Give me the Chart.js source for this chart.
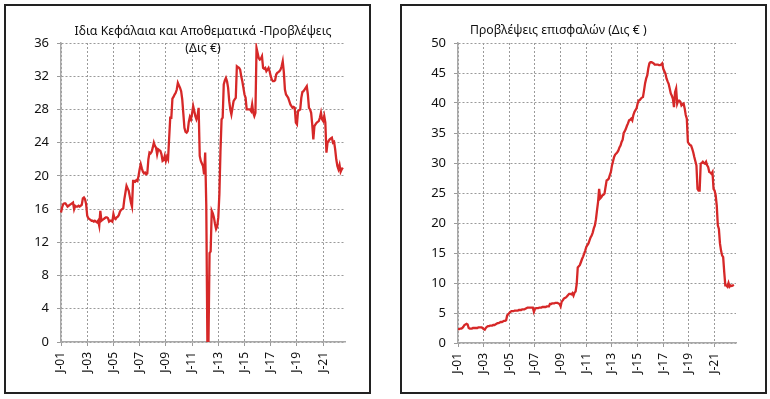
<!DOCTYPE html>
<html>
<head>
<meta charset="utf-8">
<script src="https://cdn.jsdelivr.net/npm/chart.js@4.4.0/dist/chart.umd.min.js"></script>
<style>
  body { margin: 0; background: #fff; width: 770px; height: 399px; position: relative; overflow: hidden; }
  .panel { position: absolute; top: 4px; width: 367px; height: 390px; border: 2px solid #222; box-sizing: border-box; }
  #p1 { left: 4px; }
  #p2 { left: 400px; }
  canvas { display: block; }
</style>
</head>
<body>
<div class="panel" id="p1"><canvas id="equityChart" width="363" height="386"></canvas></div>
<div class="panel" id="p2"><canvas id="provChart" width="363" height="386"></canvas></div>
<script>
// mois de janvier 2001 a septembre 2022 (les donnees s'arretent en juillet 2022)
const startYear = 2001;
const monthCount = 261;

const tickMonths = ["2001-01", "2003-01", "2005-01", "2007-01", "2009-01", "2011-01",
  "2013-01", "2015-01", "2017-01", "2019-01", "2021-01"];
const tickLabels = ["J-01", "J-03", "J-05", "J-07", "J-09", "J-11",
  "J-13", "J-15", "J-17", "J-19", "J-21"];

// Ιδια Κεφάλαια και Αποθεματικά - Προβλέψεις (Δις €), mensuel
const equityValues = [
  15.6, 16.2, 16.6, 16.7, 16.7, 16.5, 16.3, 16.4, 16.5, 16.6, 16.7, 16.8, // 2001
  16.0, 16.4, 16.3, 16.3, 16.4, 16.3, 16.4, 16.5, 17.3, 17.4, 17.2, 16.6, // 2002
  15.2, 14.9, 14.8, 14.7, 14.6, 14.6, 14.5, 14.6, 14.5, 14.4, 14.6, 14.0, // 2003
  15.8, 14.6, 14.7, 14.8, 14.9, 15.0, 15.0, 14.9, 14.5, 14.6, 14.6, 14.5, // 2004
  15.4, 14.9, 14.8, 15.0, 15.1, 15.3, 15.7, 15.9, 16.0, 16.1, 17.2, 18.0, // 2005
  18.8, 18.5, 18.2, 17.5, 16.8, 16.3, 19.4, 19.4, 19.3, 19.5, 19.4, 20.0, // 2006
  20.8, 21.4, 20.9, 20.5, 20.3, 20.4, 20.2, 20.3, 22.0, 22.8, 22.7, 22.9, // 2007
  23.4, 24.0, 23.6, 23.4, 22.6, 23.2, 23.1, 23.0, 22.6, 21.8, 21.9, 22.4, // 2008
  21.8, 22.3, 22.0, 24.5, 27.0, 27.0, 29.3, 29.5, 29.8, 30.0, 30.4, 31.2, // 2009
  30.9, 30.6, 30.2, 29.2, 27.5, 25.8, 25.3, 25.2, 25.4, 26.5, 27.1, 26.8, // 2010
  27.5, 28.4, 27.8, 27.2, 26.8, 27.2, 28.2, 22.4, 21.8, 21.5, 21.2, 20.2, // 2011
  22.8, 16.4, 0.0, 0.0, 10.7, 10.9, 15.8, 15.5, 15.0, 14.2, 13.6, 13.9,   // 2012
  15.0, 17.8, 23.0, 26.8, 27.0, 31.0, 31.5, 31.8, 31.4, 30.6, 29.0, 28.0, // 2013
  27.4, 28.2, 29.0, 29.2, 29.4, 33.2, 33.1, 33.0, 32.8, 32.0, 31.4, 30.6, // 2014
  29.8, 29.4, 28.0, 28.0, 28.0, 28.0, 27.8, 28.6, 27.6, 27.2, 27.6, 35.4, // 2015
  34.8, 34.2, 34.0, 34.1, 34.4, 33.0, 32.9, 33.0, 32.6, 32.8, 33.0, 32.6, // 2016
  32.0, 31.6, 31.4, 31.4, 31.5, 32.2, 32.4, 32.5, 32.6, 32.8, 33.2, 33.8, // 2017
  32.5, 30.4, 29.8, 29.6, 29.4, 29.0, 28.6, 28.4, 28.2, 28.3, 28.2, 26.4, // 2018
  26.2, 27.8, 27.9, 28.0, 29.4, 30.1, 30.2, 30.4, 30.6, 30.8, 29.8, 28.2, // 2019
  28.0, 27.6, 26.2, 24.4, 26.0, 26.2, 26.4, 26.5, 26.6, 27.0, 27.6, 26.8, // 2020
  26.6, 27.2, 26.4, 22.8, 24.0, 24.2, 24.4, 24.5, 24.6, 24.0, 24.1, 23.2, // 2021
  22.0, 21.2, 20.8, 21.3, 20.5, 20.8, 21.0                                // 2022
];

// Προβλέψεις επισφαλών (Δις €), mensuel
const provisionValues = [
  2.3, 2.3, 2.4, 2.4, 2.5, 2.7, 3.0, 3.1, 3.2, 3.1, 2.5, 2.4,             // 2001
  2.4, 2.4, 2.5, 2.5, 2.5, 2.5, 2.5, 2.6, 2.6, 2.6, 2.6, 2.5,             // 2002
  2.3, 2.2, 2.5, 2.7, 2.8, 2.8, 2.9, 2.9, 2.9, 3.0, 3.0, 3.1,             // 2003
  3.2, 3.3, 3.3, 3.4, 3.5, 3.5, 3.6, 3.7, 3.7, 3.8, 4.6, 4.8,             // 2004
  5.0, 5.2, 5.3, 5.3, 5.3, 5.4, 5.4, 5.4, 5.4, 5.5, 5.5, 5.5,             // 2005
  5.6, 5.6, 5.6, 5.7, 5.8, 5.9, 5.9, 5.9, 5.9, 5.9, 5.9, 5.2,             // 2006
  5.7, 5.8, 5.8, 5.8, 5.9, 5.9, 5.9, 6.0, 6.0, 6.0, 6.0, 6.1,             // 2007
  6.1, 6.1, 6.5, 6.5, 6.6, 6.6, 6.6, 6.7, 6.7, 6.7, 6.6, 6.5,             // 2008
  6.1, 6.9, 7.1, 7.4, 7.5, 7.6, 7.8, 8.0, 8.2, 8.2, 8.1, 8.3,             // 2009
  7.9, 8.4, 8.6, 9.8, 12.6, 12.8, 13.0, 13.5, 14.0, 14.4, 14.9, 15.4,     // 2010
  16.0, 16.3, 16.6, 17.1, 17.6, 17.9, 18.4, 19.1, 19.6, 20.6, 22.1, 23.5, // 2011
  25.7, 24.1, 24.3, 24.6, 24.7, 24.9, 26.0, 27.1, 27.2, 27.4, 28.0, 28.5, // 2012
  29.6, 30.3, 31.0, 31.4, 31.6, 31.8, 32.1, 32.6, 32.9, 33.5, 33.9, 35.0, // 2013
  35.3, 35.7, 36.2, 36.6, 37.1, 37.2, 37.4, 37.1, 38.0, 38.5, 38.8, 39.1, // 2014
  39.9, 40.4, 40.5, 40.7, 40.9, 41.0, 42.1, 43.3, 44.1, 44.6, 45.8, 46.6, // 2015
  46.8, 46.8, 46.7, 46.6, 46.4, 46.4, 46.4, 46.4, 46.3, 46.3, 46.4, 46.6, // 2016
  45.7, 45.3, 44.9, 44.1, 43.6, 43.2, 42.4, 41.6, 41.2, 40.7, 39.3, 41.8, // 2017
  42.4, 39.9, 40.4, 40.4, 40.2, 39.6, 39.8, 39.9, 39.1, 38.0, 37.4, 33.5, // 2018
  33.2, 33.0, 32.9, 32.4, 31.8, 31.0, 30.3, 29.6, 25.7, 25.4, 25.4, 29.9, // 2019
  30.0, 30.2, 30.0, 29.9, 30.2, 29.6, 29.3, 28.5, 28.4, 28.2, 28.5, 25.7, // 2020
  25.4, 24.6, 22.9, 19.6, 19.0, 16.6, 15.4, 14.6, 14.3, 11.8, 9.6, 9.6,   // 2021
  9.4, 10.0, 9.4, 9.6, 9.5, 9.6, 9.7                                      // 2022
];

const monthLabels = [];
for (let i = 0; i < monthCount; i++) {
  const y = startYear + Math.floor(i / 12);
  const m = (i % 12) + 1;
  monthLabels.push(y + "-" + (m < 10 ? "0" + m : m));
}

const FONT = "'Noto Sans', 'DejaVu Sans', sans-serif";
const gridGrey = "#9a9a9a";
const axisGrey = "#a8a8a8";
const lineRed = "#d62828";

// titre dessine par-dessus la zone du graphique, comme dans l'original
const panelTitle = {
  id: "panelTitle",
  afterDraw(chart, args, opts) {
    const ctx = chart.ctx;
    const area = chart.chartArea;
    ctx.save();
    ctx.font = opts.size + "px " + FONT;
    ctx.fillStyle = "#111";
    ctx.textBaseline = "middle";
    ctx.textAlign = opts.align;
    const x = opts.align === "center" ? (area.left + area.right) / 2 + opts.dx : area.left + opts.dx;
    opts.lines.forEach((t, i) => ctx.fillText(t, x, opts.top + i * 16.5));
    ctx.restore();
  },
};

function makeChart(id, values, yMax, yStep, title, axisWidth, padRight, axisHeight) {
  const ctx = document.getElementById(id).getContext("2d");
  return new Chart(ctx, {
    type: "line",
    data: {
      labels: monthLabels,
      datasets: [
        {
          data: values,
          borderColor: lineRed,
          borderWidth: 2.3,
          pointRadius: 0,
          fill: false,
          tension: 0,
        },
      ],
    },
    options: {
      responsive: false,
      animation: false,
      layout: { padding: { top: 37, right: padRight, left: 0, bottom: 0 } },
      plugins: {
        legend: { display: false },
        tooltip: { enabled: false },
        panelTitle: title,
      },
      scales: {
        x: {
          afterFit: (s) => { s.height = axisHeight; },
          grid: {
            color: gridGrey,
            lineWidth: 1,
            tickLength: 4,
            tickColor: gridGrey,
          },
          border: { color: axisGrey, width: 1.5, dash: [2, 2] },
          ticks: {
            autoSkip: false,
            maxRotation: 90,
            minRotation: 90,
            padding: 6,
            color: "#111",
            font: { family: FONT, size: 12 },
            callback: function (val) {
              const k = tickMonths.indexOf(this.getLabelForValue(val));
              return k >= 0 ? tickLabels[k] : null;
            },
          },
        },
        y: {
          min: 0,
          max: yMax,
          afterFit: (s) => { s.width = axisWidth; },
          grid: {
            color: gridGrey,
            lineWidth: 1,
            tickLength: 4,
            tickColor: gridGrey,
          },
          border: { color: axisGrey, width: 1.5, dash: [2, 2] },
          ticks: {
            stepSize: yStep,
            padding: 8,
            color: "#111",
            font: { family: FONT, size: 13 },
          },
        },
      },
    },
    plugins: [panelTitle],
  });
}

makeChart("equityChart", equityValues, 36, 4,
  { lines: ["Ιδια Κεφάλαια και Αποθεματικά -Προβλέψεις", "(Δις €)"], top: 25.5, align: "center", dx: 0, size: 12.3 },
  55, 24, 50);

makeChart("provChart", provisionValues, 50, 5,
  { lines: ["Προβλέψεις επισφαλών (Δις € )"], top: 24, align: "left", dx: 12, size: 12.3 },
  56, 29, 49);
</script>
</body>
</html>
